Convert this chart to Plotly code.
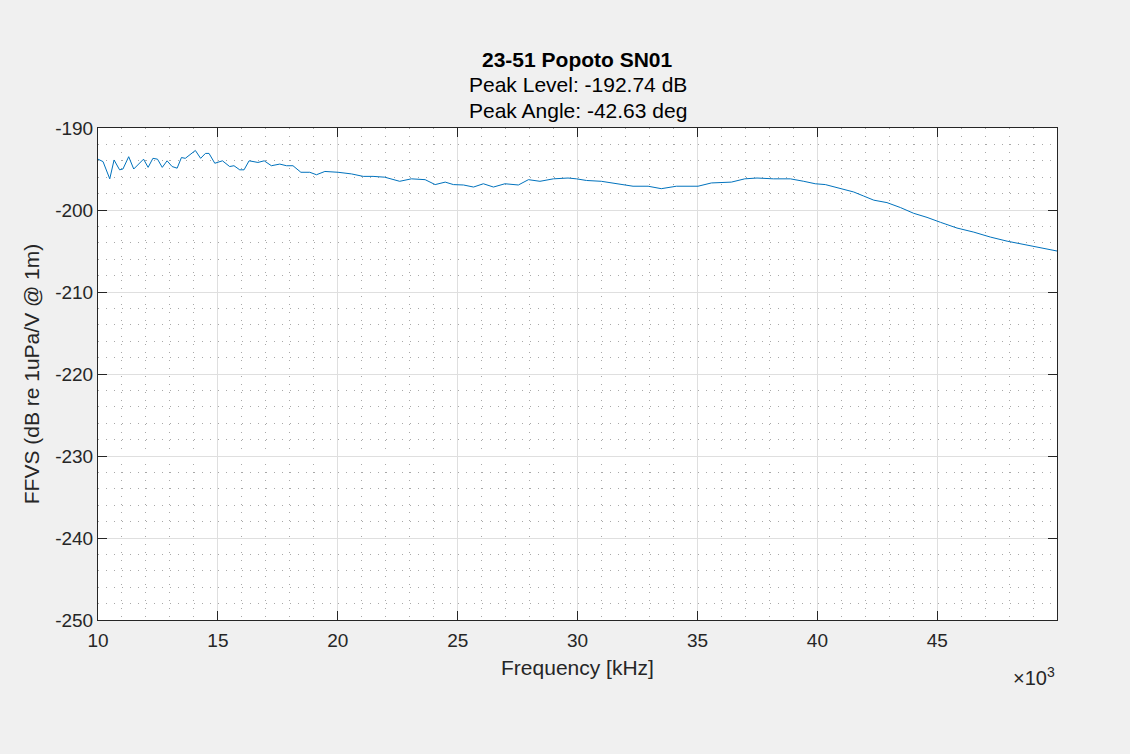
import plotly.graph_objects as go

# FFVS curve (frequency in kHz, level in dB)
freq_khz = [10.0, 10.21, 10.49, 10.67, 10.9, 11.04, 11.28, 11.49, 11.9, 12.09,
            12.29, 12.48, 12.68, 12.88, 13.09, 13.30, 13.48, 13.64, 14.06, 14.28,
            14.48, 14.63, 14.87, 15.19, 15.49, 15.67, 15.91, 16.09, 16.30, 16.67,
            16.93, 17.23, 17.58, 17.86, 18.13, 18.46, 18.83, 19.11, 19.46, 20.01,
            20.57, 21.06, 21.47, 21.96, 22.58, 23.07, 23.64, 24.06, 24.48, 24.82,
            25.24, 25.66, 26.07, 26.49, 26.97, 27.53, 27.95, 28.43, 28.99, 29.6,
            29.95, 30.37, 30.99, 31.62, 32.31, 32.94, 33.49, 34.12, 35.02, 35.58,
            36.41, 36.97, 37.48, 38.17, 38.87, 39.43, 39.91, 40.33, 40.96, 41.51,
            41.93, 42.35, 42.9, 43.46, 44.01, 44.57, 45.13, 45.82, 46.52, 47.21,
            47.91, 48.6, 49.16, 49.99]
ffvs_db = [-193.8, -194.1, -196.2, -193.9, -195.1, -195.0, -193.5, -195.0, -193.8, -194.8,
           -193.7, -193.8, -194.8, -194.0, -194.7, -194.9, -193.6, -193.7, -192.74, -193.7,
           -193.1, -193.1, -194.3, -194.0, -194.7, -194.6, -195.1, -195.1, -194.0, -194.2,
           -194.0, -194.6, -194.4, -194.6, -194.6, -195.4, -195.4, -195.7, -195.3, -195.4,
           -195.6, -195.9, -195.9, -196.0, -196.5, -196.2, -196.3, -196.9, -196.6, -196.9,
           -196.95, -197.2, -196.8, -197.2, -196.8, -196.95, -196.3, -196.5, -196.2, -196.1,
           -196.2, -196.4, -196.5, -196.8, -197.1, -197.1, -197.4, -197.1, -197.1, -196.7,
           -196.6, -196.2, -196.1, -196.2, -196.2, -196.5, -196.8, -196.9, -197.4, -197.8,
           -198.3, -198.8, -199.1, -199.7, -200.4, -200.9, -201.5, -202.2, -202.7, -203.3,
           -203.8, -204.2, -204.6, -205.0]

x_ticks = [10, 15, 20, 25, 30, 35, 40, 45]
y_ticks = [-250, -240, -230, -220, -210, -200, -190]
y_ticktext = [str(v) for v in y_ticks]  # plain hyphen, like the original

title_lines = ["<b>23-51 Popoto SN01</b>", "Peak Level: -192.74 dB", "Peak Angle: -42.63 deg"]

FONT = "Liberation Sans, Arial, Helvetica, sans-serif"
AX = "#262626"

fig = go.Figure()
fig.add_trace(go.Scatter(x=freq_khz, y=ffvs_db, mode="lines",
                         line=dict(color="#0072BD", width=1), showlegend=False))

axis_common = dict(
    showline=True, linecolor=AX, linewidth=1, mirror="allticks",
    ticks="inside", ticklen=9, tickcolor=AX, tickwidth=1,
    showgrid=True, gridcolor="#DFDFDF", gridwidth=1,
    zeroline=False, tickfont=dict(family=FONT, size=19, color=AX),
)
minor_grid = dict(showgrid=True, gridcolor="#A8A8A8", griddash="1px,7px", gridwidth=1, ticks="")

fig.update_xaxes(range=[10, 49.99], tickvals=x_ticks, ticktext=[str(v) for v in x_ticks],
                 minor=dict(dtick=1, tick0=10, **minor_grid), ticklabelstandoff=3,
                 title=dict(text="Frequency [kHz]", font=dict(family=FONT, size=21, color=AX),
                            standoff=10),
                 **axis_common)
fig.update_yaxes(range=[-250, -190], tickvals=y_ticks, ticktext=y_ticktext,
                 minor=dict(dtick=2, tick0=-250, **minor_grid),
                 title=dict(text="FFVS (dB re 1uPa/V @ 1m)", font=dict(family=FONT, size=21, color=AX),
                            standoff=9),
                 **axis_common)

for i, txt in enumerate(title_lines):
    fig.add_annotation(text=txt, xref="paper", yref="paper", x=0.5, y=1.0,
                       yshift=69 - i * 25.5, showarrow=False, xanchor="center",
                       yanchor="middle", font=dict(family=FONT, size=21, color="black"))

fig.add_annotation(text="\u00d710<sup>3</sup>", xref="paper", yref="paper", x=1.0, y=0,
                   yshift=-56, xanchor="right", yanchor="middle", showarrow=False,
                   font=dict(family=FONT, size=20, color=AX))

fig.update_layout(
    width=1130, height=754,
    margin=dict(l=98, r=73, t=128, b=134),
    paper_bgcolor="#F0F0F0", plot_bgcolor="white",
    font=dict(family=FONT, color=AX),
)

fig.write_html("out.html", config={"displayModeBar": False},
               post_script="document.body.style.margin='0';")
